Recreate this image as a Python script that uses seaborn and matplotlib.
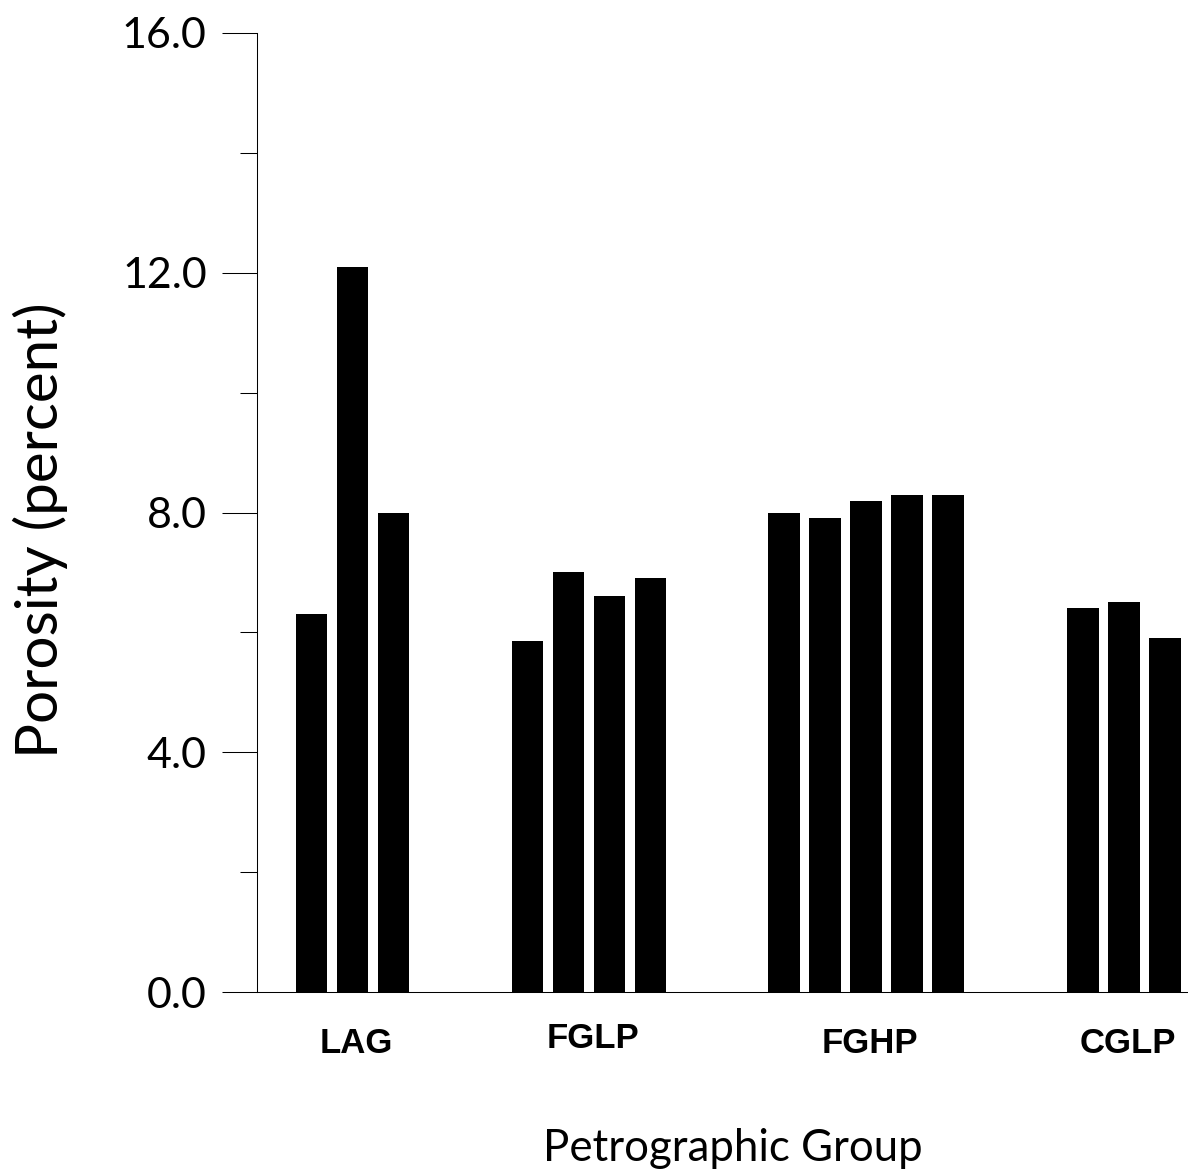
import numpy as np
import pandas as pd
import matplotlib
matplotlib.use("Agg")
import matplotlib.pyplot as plt
import matplotlib.transforms as mtransforms
import seaborn as sns
from matplotlib.ticker import MultipleLocator

# ---- data ----
groups = ["LAG", "FGLP", "FGHP", "CGLP"]
lag = [6.3, 12.1, 8.0]
fglp = [5.85, 7.0, 6.6, 6.9]
fghp = [8.0, 7.9, 8.2, 8.3, 8.3]
cglp = [6.4, 6.5, 5.9]
y_ticks = [0.0, 4.0, 8.0, 12.0, 16.0]
x_label = "Petrographic Group"
y_label = "Porosity (percent)"

series = [lag, fglp, fghp, cglp]
group_start = [0.0, 5.27, 11.52, 18.82]

rows = []
for g, vals, s in zip(groups, series, group_start):
    for i, v in enumerate(vals):
        rows.append({"group": g, "pos": s + i, "porosity": v})
df = pd.DataFrame(rows)

sns.set_theme(style="white")
plt.rcParams["font.family"] = ["Lato", "DejaVu Sans"]
plt.rcParams["text.color"] = "black"

W, H = 1188, 1171
fig = plt.figure(figsize=(W / 100, H / 100), dpi=100)
ax = fig.add_axes([257 / W, 179 / H, (W - 257) / W, (992 - 33) / H])

sns.barplot(data=df, x="pos", y="porosity", native_scale=True, width=0.77,
            color="black", saturation=1, errorbar=None, ax=ax, linewidth=0)

ax.set_xlim(-1.33, 21.38)
ax.set_ylim(0, 16)

ax.yaxis.set_minor_locator(MultipleLocator(2))
ax.set_yticks(y_ticks)
ax.set_yticklabels([f"{t:.1f}" for t in y_ticks], fontsize=31, color="black")
ax.tick_params(axis="y", which="major", direction="out", length=25.2, width=0.75, pad=11,
               left=True, color="black")
ax.tick_params(axis="y", which="minor", direction="out", length=12.2, width=0.75,
               left=True, color="black")

centers = [s + (len(v) - 1) / 2 + 0.1 for s, v in zip(group_start, series)]
ax.set_xticks(centers)
ax.set_xticklabels(groups, fontsize=25, fontweight="bold", family="Liberation Sans",
                   color="black")
ax.tick_params(axis="x", length=0, pad=25.5, bottom=False)
# FGLP label sits slightly higher in the reference
lbl = ax.get_xticklabels()[1]
lbl.set_transform(lbl.get_transform() + mtransforms.ScaledTranslation(0, 5 / 100, fig.dpi_scale_trans))

for side in ["top", "right"]:
    ax.spines[side].set_visible(False)
for side in ["left", "bottom"]:
    ax.spines[side].set_visible(True)
    ax.spines[side].set_color("black")
    ax.spines[side].set_linewidth(0.75)

ax.set_xlabel(x_label, fontsize=31.5, color="black")
ax.xaxis.set_label_coords((732.5 - 257) / (W - 257), -(1161 - 992) / (992 - 33))
ax.xaxis.label.set_va("baseline")

ax.set_ylabel(y_label, fontsize=42, color="black")
ax.yaxis.set_label_coords((68 - 257) / (W - 257), (992 - 530) / (992 - 33))

fig.savefig("out.png", dpi=100, facecolor="white")
